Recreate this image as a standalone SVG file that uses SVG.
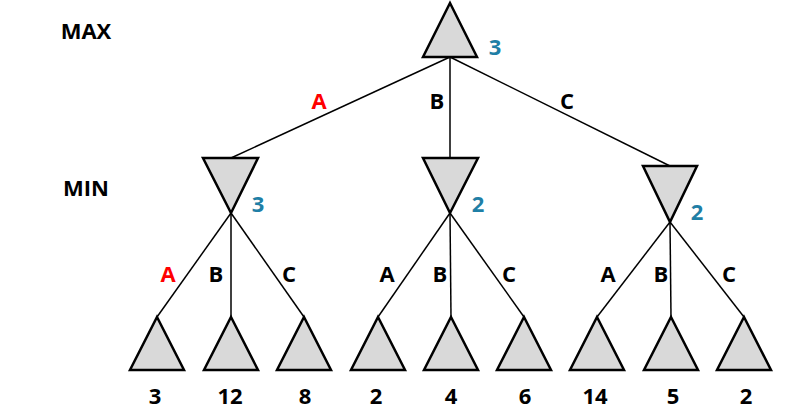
<svg xmlns="http://www.w3.org/2000/svg" width="810" height="411" viewBox="0 0 810 411">
<style>
.t{fill:#d9d9d9;stroke:#000;stroke-width:2.5;stroke-linejoin:miter}
.l{stroke:#000;stroke-width:1.5;fill:none}
text{font-family:"Open Sans","Liberation Sans",sans-serif;font-weight:bold;font-size:22px}
.v{fill:#1f7fa6}.r{fill:#ff0000}.c{text-anchor:middle}
</style>
<rect width="810" height="411" fill="#fff"/>
<g id="connectors">
<line class="l" x1="450" y1="57" x2="231" y2="158"/>
<line class="l" x1="450" y1="57" x2="450" y2="158"/>
<line class="l" x1="450" y1="57" x2="670" y2="166"/>
<line class="l" x1="231" y1="213" x2="157" y2="317"/>
<line class="l" x1="231" y1="213" x2="231" y2="317"/>
<line class="l" x1="231" y1="213" x2="304" y2="317"/>
<line class="l" x1="450" y1="213" x2="378" y2="317"/>
<line class="l" x1="450" y1="213" x2="451" y2="317"/>
<line class="l" x1="450" y1="213" x2="524" y2="317"/>
<line class="l" x1="670" y1="222" x2="597" y2="317"/>
<line class="l" x1="670" y1="222" x2="671" y2="317"/>
<line class="l" x1="670" y1="222" x2="744" y2="317"/>
</g>
<g id="labels">
<text x="86" y="39" class="c">MAX</text>
<text x="86" y="196" class="c">MIN</text>
<text x="319" y="109" class="c r">A</text>
<text x="437" y="109" class="c">B</text>
<text x="567" y="109" class="c">C</text>
<text x="168" y="282" class="c r">A</text>
<text x="216" y="282" class="c">B</text>
<text x="289" y="282" class="c">C</text>
<text x="387" y="282" class="c">A</text>
<text x="440" y="282" class="c">B</text>
<text x="509" y="282" class="c">C</text>
<text x="608" y="282" class="c">A</text>
<text x="661" y="282" class="c">B</text>
<text x="729" y="282" class="c">C</text>
</g>
<g id="max"><polygon class="t" points="450,3 477,57 423,57"/><text x="495" y="55" class="c v">3</text></g>
<g id="minA"><polygon class="t" points="203,158 258,158 231,213"/><text x="258" y="212" class="c v">3</text></g>
<g id="minB"><polygon class="t" points="423,158 478,158 450,213"/><text x="478" y="212" class="c v">2</text></g>
<g id="minC"><polygon class="t" points="643,166 697,166 670,222"/><text x="697" y="220" class="c v">2</text></g>
<g id="leaves">
<g id="l1"><polygon class="t" points="157,317 184,370 130,370"/><text x="155" y="404" class="c">3</text></g>
<g id="l2"><polygon class="t" points="231,317 258,370 204,370"/><text x="230" y="404" class="c">12</text></g>
<g id="l3"><polygon class="t" points="304,317 331,370 277,370"/><text x="305" y="404" class="c">8</text></g>
<g id="l4"><polygon class="t" points="378,317 405,370 351,370"/><text x="376" y="404" class="c">2</text></g>
<g id="l5"><polygon class="t" points="451,317 478,370 424,370"/><text x="451" y="404" class="c">4</text></g>
<g id="l6"><polygon class="t" points="524,317 551,370 497,370"/><text x="525" y="404" class="c">6</text></g>
<g id="l7"><polygon class="t" points="597,317 624,370 570,370"/><text x="595" y="404" class="c">14</text></g>
<g id="l8"><polygon class="t" points="671,317 698,370 644,370"/><text x="673" y="404" class="c">5</text></g>
<g id="l9"><polygon class="t" points="744,317 771,370 717,370"/><text x="746" y="404" class="c">2</text></g>
</g>
</svg>
